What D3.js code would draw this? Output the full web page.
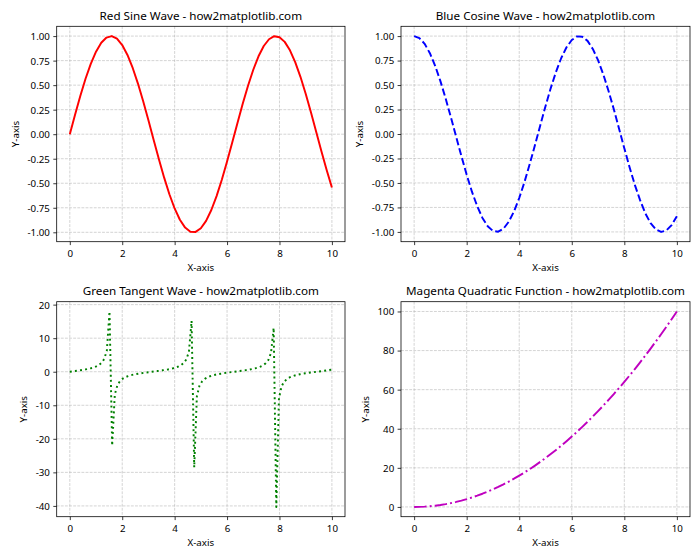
<!DOCTYPE html>
<html><head><meta charset="utf-8">
<script src="https://cdn.jsdelivr.net/npm/d3@7"></script>
<style>
body{margin:0;background:#fff}
svg{display:block}
text{font-family:"Noto Sans",sans-serif;fill:#000}
</style>
</head><body>
<svg id="chart" width="700" height="560"></svg>
<script>
// ---------- data ----------
const xGrid = [0,0.2,0.4,0.6,0.8,1,1.2,1.4,1.6,1.8,2,2.2,2.4,2.6,2.8,3,3.2,3.4,3.6,3.8,4,4.2,4.4,4.6,4.8,5,5.2,5.4,5.6,5.8,6,6.2,6.4,6.6,6.8,7,7.2,7.4,7.6,7.8,8,8.2,8.4,8.6,8.8,9,9.2,9.4,9.6,9.8,10];
const sineValues = [0,0.199,0.389,0.565,0.717,0.841,0.932,0.985,1.0,0.974,0.909,0.808,0.675,0.516,0.335,0.141,-0.058,-0.256,-0.443,-0.612,-0.757,-0.872,-0.952,-0.994,-0.996,-0.959,-0.883,-0.773,-0.631,-0.465,-0.279,-0.083,0.117,0.312,0.494,0.657,0.794,0.899,0.968,0.999,0.989,0.941,0.855,0.734,0.585,0.412,0.223,0.025,-0.174,-0.366,-0.544];
const cosineValues = [1,0.980,0.921,0.825,0.697,0.540,0.362,0.170,-0.029,-0.227,-0.416,-0.589,-0.737,-0.857,-0.942,-0.990,-0.998,-0.967,-0.897,-0.791,-0.654,-0.490,-0.307,-0.112,0.087,0.284,0.469,0.635,0.776,0.886,0.960,0.997,0.993,0.951,0.869,0.754,0.608,0.439,0.253,0.054,-0.146,-0.340,-0.519,-0.676,-0.811,-0.911,-0.975,-1.0,-0.985,-0.930,-0.839];
const quadValues = [0,0.04,0.16,0.36,0.64,1,1.44,1.96,2.56,3.24,4,4.84,5.76,6.76,7.84,9,10.24,11.56,12.96,14.44,16,17.64,19.36,21.16,23.04,25,27.04,29.16,31.36,33.64,36,38.44,40.96,43.56,46.24,49,51.84,54.76,57.76,60.84,64,67.24,70.56,73.96,77.44,81,84.64,88.36,92.16,96.04,100];
const xFine = [0,0.101,0.202,0.303,0.404,0.505,0.606,0.707,0.808,0.909,1.010,1.111,1.212,1.313,1.414,1.515,1.616,1.717,1.818,1.919,2.020,2.121,2.222,2.323,2.424,2.525,2.626,2.727,2.828,2.929,3.030,3.131,3.232,3.333,3.434,3.535,3.636,3.737,3.838,3.939,4.040,4.141,4.242,4.343,4.444,4.545,4.646,4.747,4.848,4.949,5.051,5.152,5.253,5.354,5.455,5.556,5.657,5.758,5.859,5.960,6.061,6.162,6.263,6.364,6.465,6.566,6.667,6.768,6.869,6.970,7.071,7.172,7.273,7.374,7.475,7.576,7.677,7.778,7.879,7.980,8.081,8.182,8.283,8.384,8.485,8.586,8.687,8.788,8.889,8.990,9.091,9.192,9.293,9.394,9.495,9.596,9.697,9.798,9.899,10];
const tangentValues = [0,0.101,0.205,0.313,0.427,0.552,0.693,0.854,1.045,1.282,1.590,2.020,2.666,3.79,6.33,17.96,-22.0,-6.78,-3.96,-2.755,-2.073,-1.627,-1.311,-1.067,-0.872,-0.710,-0.570,-0.440,-0.319,-0.216,-0.112,-0.011,0.091,0.194,0.301,0.415,0.540,0.678,0.838,1.025,1.256,1.555,1.967,2.581,3.637,5.92,15.15,-28.5,-7.30,-4.14,-2.843,-2.130,-1.668,-1.339,-1.088,-0.891,-0.726,-0.582,-0.451,-0.328,-0.226,-0.122,-0.021,0.081,0.183,0.291,0.403,0.527,0.662,0.821,1.004,1.230,1.523,1.918,2.508,3.50,5.58,13.08,-40.3,-7.91,-4.33,-2.94,-2.190,-1.707,-1.367,-1.110,-0.909,-0.741,-0.595,-0.463,-0.347,-0.237,-0.133,-0.031,0.070,0.173,0.279,0.391,0.514,0.648];

const xTicks = [0,2,4,6,8,10];
const xTickLabels = ["0","2","4","6","8","10"];
const trigTicks = [-1,-0.75,-0.5,-0.25,0,0.25,0.5,0.75,1];
const trigTickLabels = ["-1.00","-0.75","-0.50","-0.25","0.00","0.25","0.50","0.75","1.00"];
const tanTicks = [-40,-30,-20,-10,0,10,20];
const tanTickLabels = ["-40","-30","-20","-10","0","10","20"];
const quadTicks = [0,20,40,60,80,100];
const quadTickLabels = ["0","20","40","60","80","100"];
const titles = ["Red Sine Wave - how2matplotlib.com","Blue Cosine Wave - how2matplotlib.com","Green Tangent Wave - how2matplotlib.com","Magenta Quadratic Function - how2matplotlib.com"];

// ---------- layout / style ----------
const pt = 70/72;
const panels = [
  {title:titles[0], xs:xGrid, ys:sineValues, yt:trigTicks, ytl:trigTickLabels, color:"#ff0000", dash:null, box:[56.7,26.3,345,241.7]},
  {title:titles[1], xs:xGrid, ys:cosineValues, yt:trigTicks, ytl:trigTickLabels, color:"#0000ff", dash:[7.4*pt,3.2*pt], box:[401,26.3,690,241.7]},
  {title:titles[2], xs:xFine, ys:tangentValues, yt:tanTicks, ytl:tanTickLabels, color:"#008000", dash:[2*pt,3.3*pt], box:[56.7,301.7,345,516.7]},
  {title:titles[3], xs:xGrid, ys:quadValues, yt:quadTicks, ytl:quadTickLabels, color:"#bf00bf", dash:[12.8*pt,3.2*pt,2*pt,3.2*pt], box:[401,301.7,690,516.7]}
];
const tickFont = 10*pt, titleFont = 12*pt;
const svg = d3.select("#chart");

function padExtent(arr){
  const [a,b] = d3.extent(arr); const m=(b-a)*0.05; return [a-m,b+m];
}

panels.forEach(p => {
  const [L,T,R,B] = p.box;
  const x = d3.scaleLinear().domain(padExtent(p.xs)).range([L,R]);
  const y = d3.scaleLinear().domain(padExtent(p.ys)).range([B,T]);
  const g = svg.append("g");
  // grid
  const grid = g.append("g").attr("stroke","#b0b0b0").attr("stroke-opacity",0.7)
     .attr("stroke-width",0.8*pt).attr("stroke-dasharray",`${2.96*pt},${1.28*pt}`);
  xTicks.forEach(t => grid.append("line").attr("x1",x(t)).attr("x2",x(t)).attr("y1",T).attr("y2",B));
  p.yt.forEach(t => grid.append("line").attr("x1",L).attr("x2",R).attr("y1",y(t)).attr("y2",y(t)));
  // line
  const line = d3.line().x((d,i)=>x(p.xs[i])).y(d=>y(d));
  const path = g.append("path").datum(p.ys).attr("d",line).attr("fill","none")
     .attr("stroke",p.color).attr("stroke-width",2*pt).attr("stroke-linejoin","round");
  if(p.dash) path.attr("stroke-dasharray",p.dash.join(","));
  // axes
  const xa = g.append("g").attr("transform",`translate(0,${B})`)
     .call(d3.axisBottom(x).tickValues(xTicks).tickFormat((d,i)=>xTickLabels[i]).tickSize(3.5*pt).tickPadding(3.5*pt));
  const ya = g.append("g").attr("transform",`translate(${L},0)`)
     .call(d3.axisLeft(y).tickValues(p.yt).tickFormat((d,i)=>p.ytl[i]).tickSize(3.5*pt).tickPadding(3.5*pt));
  [xa,ya].forEach(a=>{
    a.select(".domain").remove();
    a.selectAll("line").attr("stroke","#000").attr("stroke-width",0.8*pt);
    a.selectAll("text").attr("font-size",tickFont).attr("font-family",null).attr("fill","#000");
  });
  xa.selectAll("text").attr("dy",null).attr("y",15.6);
  ya.selectAll("text").attr("dy","0.35em");
  // spines
  g.append("rect").attr("x",L).attr("y",T).attr("width",R-L).attr("height",B-T)
   .attr("fill","none").attr("stroke","#000").attr("stroke-width",0.8*pt);
  // title
  g.append("text").attr("x",(L+R)/2).attr("y",T-6.5).attr("text-anchor","middle")
   .attr("font-size",titleFont).text(p.title);
  // x label
  g.append("text").attr("x",(L+R)/2).attr("y",B+29).attr("text-anchor","middle")
   .attr("font-size",tickFont).text("X-axis");
  // y label
  let minX = Infinity;
  ya.selectAll("text").each(function(){ const b=this.getBBox(); minX=Math.min(minX,b.x); });
  const lx = L + minX - 8.5;
  g.append("text").attr("transform",`translate(${lx},${(T+B)/2}) rotate(-90)`)
   .attr("text-anchor","middle").attr("font-size",tickFont).text("Y-axis");
});
</script>
</body></html>
